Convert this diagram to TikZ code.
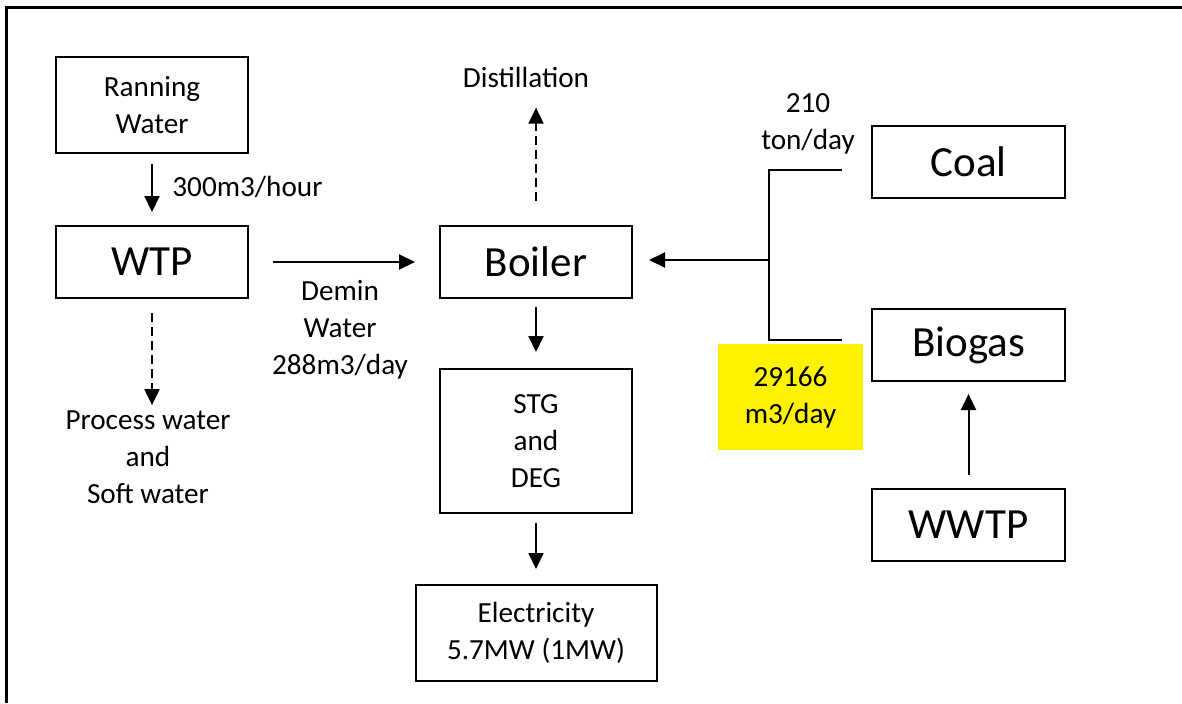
\documentclass[tikz,border=0pt]{standalone}
\usepackage{fontspec}
\setmainfont{Carlito}
\usetikzlibrary{arrows.meta}

\begin{document}
\begin{tikzpicture}[x=0.5pt, y=-0.5pt, >={Triangle[width=7.5pt,length=8pt]},
    box/.style={draw, line width=1pt, minimum width=96pt, minimum height=36pt,
        align=center, font=\fontsize{14.6}{18.5}\selectfont},
    bigbox/.style={box, font=\fontsize{21.5}{26}\selectfont},
    lbl/.style={align=center, inner sep=0pt, font=\fontsize{14.6}{18.5}\selectfont},
    flow/.style={->, line width=1pt},
    flowdash/.style={flow, dash pattern=on 4.5pt off 2.5pt}]
    \useasboundingbox (0,0) rectangle (1182,703);

    % frame
    \draw[line width=1.5pt] (6,703) -- (6,7) -- (1182,7);

    % water side
    \node[box, minimum height=48pt] (run) at (152,105) {Ranning\\Water};
    \node[bigbox] (wtp) at (152,262) {WTP};
    \node[lbl, anchor=west] (waterrate) at (172,187) {300m3/hour};
    \node[lbl] (process) at (148,457) {Process water\\and\\Soft water};
    \node[lbl] (demin) at (340,330) {Demin\\Water\\288m3/day};

    % boiler and power
    \node[bigbox] (boiler) at (536,262) {Boiler};
    \node[lbl] (dist) at (526,77) {Distillation};
    \node[box, minimum height=72pt] (stg) at (536,441) {STG\\and\\DEG};
    \node[box, minimum width=120.5pt, minimum height=48pt] (elec) at (536,633) {Electricity\\5.7MW (1MW)};

    % fuel side
    \node[bigbox, minimum width=96.5pt] (coal) at (968.5,162) {Coal};
    \node[bigbox, minimum width=96.5pt] (biogas) at (968.5,345) {Biogas};
    \node[bigbox, minimum width=96.5pt] (wwtp) at (968.5,525) {WWTP};
    \node[lbl] (coalrate) at (808,124) {210\\ton/day};
    \node[lbl, fill=yellow, minimum width=72.5pt, minimum height=53pt] (gasrate) at (790.5,397) {29166\\m3/day};

    \coordinate (jn) at (769,260);
    \coordinate (coalend) at (842,170);
    \coordinate (gasend) at (842,340);

    % flows
    \draw[flow, shorten <=5pt, shorten >=6.5pt] (run) -- (wtp);
    \draw[flow, shorten <=12pt, shorten >=12pt] (wtp) -- (boiler);
    \draw[flowdash, shorten <=7pt, shorten >=2.5pt] (wtp.south) -- (wtp.south |- process.north);
    \draw[flowdash, shorten <=12pt, shorten >=10pt] (boiler.north) -- (boiler.north |- dist.south);
    \draw[flow, shorten <=4pt, shorten >=8pt] (boiler) -- (stg);
    \draw[flow, shorten <=4.5pt, shorten >=7.5pt] (stg) -- (elec);
    \draw[flow, shorten <=6.5pt, shorten >=6pt] (wwtp) -- (biogas);
    \draw[line width=1pt] (coalend) -| (jn) |- (gasend);
    \draw[flow, shorten >=8pt] (jn) -- (boiler.east |- jn);
\end{tikzpicture}
\end{document}
